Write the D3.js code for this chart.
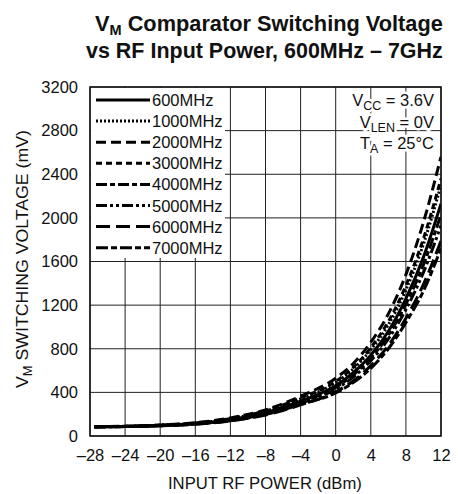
<!DOCTYPE html>
<html><head><meta charset="utf-8">
<script src="https://cdn.jsdelivr.net/npm/d3@7"></script>
<style>
body{margin:0;background:#fff;}
text{font-family:"Liberation Sans Narrow","Liberation Sans",Arial,sans-serif;fill:#111;}
</style></head><body>
<svg id="c" width="458" height="494"></svg>
<script>
const xPoints = [-27.5,-24,-20,-16,-12,-8,-4,0,2,4,6,8,10,12];
const seriesNames = ["600MHz","1000MHz","2000MHz","3000MHz","4000MHz","5000MHz","6000MHz","7000MHz"];
const v600  = [85,88,97,115,150,215,320,460,580,740,960,1260,1640,2130];
const v1000 = [85,89,99,118,158,228,340,490,615,790,1020,1340,1760,2300];
const v2000 = [86,90,101,122,166,240,365,530,665,860,1120,1480,1960,2560];
const v3000 = [85,89,99,119,160,232,348,500,630,810,1050,1380,1810,2360];
const v4000 = [84,87,96,113,146,208,310,445,560,715,925,1210,1570,2030];
const v5000 = [84,87,95,111,143,202,300,430,540,690,890,1160,1500,1930];
const v6000 = [83,86,93,108,138,193,285,405,505,645,830,1080,1390,1790];
const v7000 = [83,86,94,109,140,196,290,395,490,620,800,1040,1330,1720];
const xTicks = [-28,-24,-20,-16,-12,-8,-4,0,4,8,12];
const yTicks = [0,400,800,1200,1600,2000,2400,2800,3200];
const dashes = ["", "2,2", "10,5", "6,4", "11,3,5,3", "11,3,3,3,3,3", "14,6", "12,3,6,3"];
const allValues = [v600,v1000,v2000,v3000,v4000,v5000,v6000,v7000];

const svg = d3.select("#c");
const L=90, R=441, T=87, B=436;
const x = d3.scaleLinear().domain([-28,12]).range([L,R]);
const y = d3.scaleLinear().domain([0,3200]).range([B,T]);

// grid
const g = svg.append("g");
g.selectAll(".vx").data(xTicks).join("line")
  .attr("x1",d=>x(d)).attr("x2",d=>x(d)).attr("y1",T).attr("y2",B)
  .attr("stroke","#222").attr("stroke-width",1);
g.selectAll(".hy").data(yTicks).join("line")
  .attr("y1",d=>y(d)).attr("y2",d=>y(d)).attr("x1",L).attr("x2",R)
  .attr("stroke","#222").attr("stroke-width",1);

// axes via d3
const xAxis = svg.append("g").attr("transform",`translate(0,${B})`)
  .call(d3.axisBottom(x).tickValues(xTicks).tickSize(0).tickPadding(13)
    .tickFormat(d=> d<0 ? "\u2013"+Math.abs(d) : String(d)));
xAxis.select(".domain").remove();
xAxis.selectAll("text").style("font-size","16.5px").attr("fill","#111");
const yAxis = svg.append("g").attr("transform",`translate(${L},0)`)
  .call(d3.axisLeft(y).tickValues(yTicks).tickSize(0).tickPadding(12).tickFormat(d=>String(d)));
yAxis.select(".domain").remove();
yAxis.selectAll("text").style("font-size","16.5px").attr("fill","#111");

// legend background
svg.append("rect").attr("x",L+1).attr("y",T+1).attr("width",134).attr("height",170).attr("fill","#fff");
// annotation
const annLines = [["V","CC"," = 3.6V"],["V","LEN"," = 0V"],["T","A"," = 25°C"]];
annLines.forEach((a,i)=>{
  const t = svg.append("text").attr("x",434).attr("y",106+i*21.5).attr("text-anchor","end")
    .style("font-size","16.5px").attr("stroke","#fff").attr("stroke-width",5).attr("paint-order","stroke");
  t.append("tspan").text(a[0]);
  t.append("tspan").attr("dy",4).style("font-size","12.5px").text(a[1]);
  t.append("tspan").attr("dy",-4).text(a[2]);
});

// curves
const line = d3.line().x(d=>x(d[0])).y(d=>y(d[1])).curve(d3.curveMonotoneX);
svg.append("clipPath").attr("id","pc").append("rect").attr("x",L).attr("y",T).attr("width",R-L).attr("height",B-T);
allValues.forEach((vals,i)=>{
  svg.append("path").attr("clip-path","url(#pc)")
    .attr("d",line(xPoints.map((xv,j)=>[xv,vals[j]])))
    .attr("fill","none").attr("stroke","#000").attr("stroke-width",3)
    .attr("stroke-dasharray",dashes[i]||null);
});

// legend
seriesNames.forEach((n,i)=>{
  const yy = 100 + i*21.1;
  svg.append("line").attr("x1",96).attr("x2",150).attr("y1",yy).attr("y2",yy)
    .attr("stroke","#000").attr("stroke-width",3).attr("stroke-dasharray",dashes[i]||null);
  svg.append("text").attr("x",152).attr("y",yy+6).style("font-size","16.5px").text(n);
});

// frame
svg.append("rect").attr("x",L).attr("y",T).attr("width",R-L).attr("height",B-T)
  .attr("fill","none").attr("stroke","#111").attr("stroke-width",1.5);

// helper: condensed text fitting a width via scale transform
function fitted(x0, y0, width, size, bold, build){
  const grp = svg.append("g");
  const t = grp.append("text").attr("x",0).attr("y",0)
    .style("font-size",size+"px").style("font-weight",bold?"bold":"normal");
  build(t);
  const w = t.node().getComputedTextLength();
  grp.attr("transform",`translate(${x0},${y0}) scale(${width/w},1)`);
  return grp;
}
fitted(95,31,348,22.5,true,t=>{
  t.append("tspan").text("V");
  t.append("tspan").attr("dy",4).style("font-size","15px").text("M");
  t.append("tspan").attr("dy",-4).text(" Comparator Switching Voltage");
});
fitted(86,58,357,22.5,true,t=>t.text("vs RF Input Power, 600MHz \u2013 7GHz"));
fitted(168,489,194,16.5,false,t=>t.text("INPUT RF POWER (dBm)"));

// y axis title (rotated)
const yg = svg.append("g");
const yt = yg.append("text").style("font-size","16.5px");
yt.append("tspan").text("V");
yt.append("tspan").attr("dy",4).style("font-size","12px").text("M");
yt.append("tspan").attr("dy",-4).text(" SWITCHING VOLTAGE (mV)");
const yw = yt.node().getComputedTextLength();
yg.attr("transform",`translate(28,388) rotate(-90) scale(${258/yw},1)`);
</script></body></html>
